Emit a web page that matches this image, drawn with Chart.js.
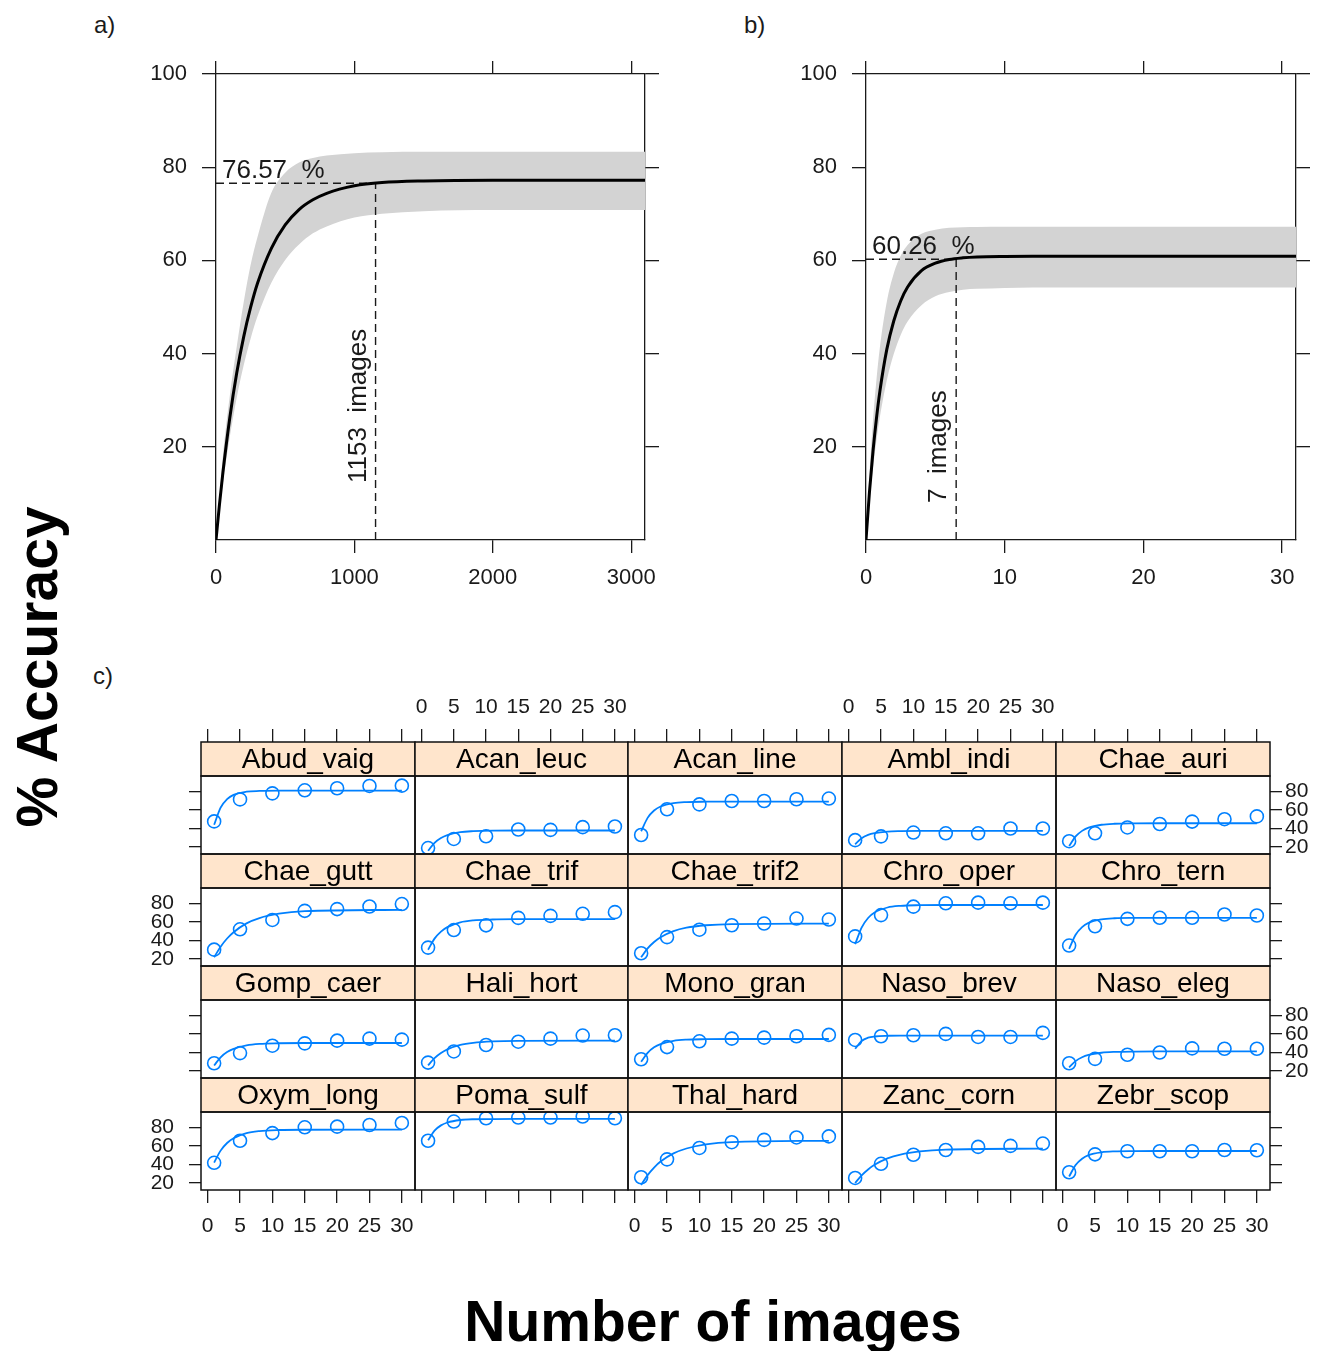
<!DOCTYPE html>
<html>
<head>
<meta charset="utf-8">
<title>% Accuracy vs number of images</title>
<script src="https://cdn.jsdelivr.net/npm/chart.js@4.4.1/dist/chart.umd.min.js"></script>
<style>
  body { margin: 0; background: #fff; }
  #page { position: relative; width: 1336px; height: 1351px; overflow: hidden;
          font-family: 'Liberation Sans', Arial, Helvetica, sans-serif; color: #1a1a1a; }
  .cv { position: absolute; }
  .tag { position: absolute; font-size: 24px; line-height: 30px; }
  .big { position: absolute; font-weight: bold; font-size: 57px; color: #000; white-space: nowrap; }
  #ylab { left: 37px; top: 667px; transform: translate(-50%, -50%) rotate(-90deg); }
  #xlab { left: 713px; top: 1288px; transform: translateX(-50%); }
</style>
</head>
<body>
<div id="page">
  <div class="tag" style="left:94px;top:10px">a)</div>
  <div class="tag" style="left:744px;top:10px">b)</div>
  <div class="tag" style="left:93px;top:661px">c)</div>
  <div class="big" id="ylab">% Accuracy</div>
  <div class="big" id="xlab">Number of images</div>
  <div class="cv" style="left:130px;top:40px;width:560px;height:570px"><canvas id="chartA"></canvas></div>
  <div class="cv" style="left:780px;top:40px;width:560px;height:570px"><canvas id="chartB"></canvas></div>
</div>
<script>
// ---- a) all species pooled: fitted accuracy curve and its band ----
const aX     = [0, 25, 50, 100, 150, 200, 250, 300, 400, 500, 600, 700, 800, 1000, 1200, 1500, 2000, 2500, 3100];
const aFit   = [0, 7.6, 14.5, 26.3, 35.9, 43.6, 49.9, 55.1, 62.6, 67.6, 70.9, 73.0, 74.4, 76.0, 76.7, 77.05, 77.2, 77.2, 77.2];
const aUpper = [0, 9, 18, 31, 41.5, 51, 59, 65, 74.5, 78.8, 81.0, 82.0, 82.5, 83.0, 83.2, 83.3, 83.3, 83.3, 83.3];
const aLower = [0, 6.4, 12.2, 22.2, 30.6, 37.5, 43.2, 48.0, 55.2, 60.1, 63.4, 65.8, 67.3, 69.2, 70.0, 70.55, 70.8, 70.8, 70.8];
const aXTicks = [0, 1000, 2000, 3000];
const aAcc = 76.57;
const aImages = 1153;

// ---- b) per species average ----
const bX     = [0, 0.25, 0.5, 0.75, 1, 1.5, 2, 2.5, 3, 4, 5, 6, 7, 8, 10, 12, 15, 20, 31];
const bFit   = [0, 10.3, 18.9, 26.0, 31.9, 40.9, 47.0, 51.3, 54.3, 57.8, 59.4, 60.2, 60.56, 60.74, 60.86, 60.9, 60.9, 60.9, 60.9];
const bUpper = [0, 14.2, 25.5, 34.3, 41.3, 51.1, 57.2, 61.0, 63.3, 65.7, 66.6, 66.98, 67.1, 67.15, 67.2, 67.2, 67.2, 67.2, 67.2];
const bLower = [0, 8.3, 15.4, 21.3, 26.4, 34.3, 39.9, 44.0, 46.9, 50.4, 52.3, 53.2, 53.7, 53.9, 54.1, 54.2, 54.2, 54.2, 54.2];
const bXTicks = [0, 10, 20, 30];
const bAcc = 60.26;
const bImages = 6.5;
const bImagesLabel = 7;

const accTicks = [20, 40, 60, 80, 100];

// ---- c) one panel per species ----
const pointX = [1, 5, 10, 15, 20, 25, 30];
const curveX = [1, 2, 3, 4, 6, 8, 11, 15, 30];
const panelXTicks = [0, 5, 10, 15, 20, 25, 30];
const panelYTicks = [20, 40, 60, 80];

const abudVaigPts  = [47.6, 71.3, 77.8, 81.1, 83.3, 85.8, 86.1];
const abudVaigFit  = [44.0, 62.5, 71.6, 76.2, 79.6, 80.4, 80.7, 80.7, 80.7];
const acanLeucPts  = [18.9, 28.7, 31.6, 38.9, 38.5, 41.4, 42.1];
const acanLeucFit  = [16.0, 24.6, 29.8, 32.9, 36.0, 37.1, 37.7, 37.8, 37.8];
const acanLinePts  = [33.0, 60.7, 65.9, 69.6, 69.6, 71.5, 72.2];
const acanLineFit  = [37.0, 51.4, 59.3, 63.6, 67.3, 68.4, 68.8, 68.9, 68.9];
const amblIndiPts  = [27.4, 31.5, 35.6, 34.8, 34.8, 40.0, 40.0];
const amblIndiFit  = [23.0, 29.5, 33.1, 35.0, 36.7, 37.2, 37.4, 37.4, 37.4];
const chaeAuriPts  = [26.3, 34.8, 41.1, 44.8, 47.4, 50.0, 53.0];
const chaeAuriFit  = [21.0, 31.4, 37.4, 40.9, 44.0, 45.1, 45.5, 45.6, 45.6];
const chaeGuttPts  = [30.1, 52.0, 62.1, 71.9, 73.8, 76.6, 79.2];
const chaeGuttFit  = [22.0, 33.3, 42.1, 48.9, 58.4, 64.1, 68.8, 71.5, 73.0];
const chaeTrifPts  = [32.3, 51.2, 56.3, 64.3, 66.5, 68.7, 70.5];
const chaeTrifFit  = [30.0, 42.0, 49.6, 54.4, 59.5, 61.6, 62.6, 62.9, 63.0];
const chaeTrif2Pts = [26.2, 43.6, 51.6, 56.4, 58.2, 63.6, 62.5];
const chaeTrif2Fit = [22.0, 31.4, 38.3, 43.5, 50.1, 53.8, 56.4, 57.7, 58.2];
const chroOperPts  = [44.4, 67.3, 76.4, 80.0, 80.7, 80.0, 80.7];
const chroOperFit  = [36.0, 53.9, 64.2, 70.1, 75.5, 77.3, 78.0, 78.2, 78.2];
const chroTernPts  = [34.5, 55.3, 63.3, 64.4, 64.4, 68.0, 66.9];
const chroTernFit  = [31.0, 46.1, 54.3, 58.9, 62.7, 63.9, 64.3, 64.4, 64.4];
const gompCaerPts  = [28.4, 39.3, 47.3, 49.8, 52.7, 54.9, 53.8];
const gompCaerFit  = [26.0, 34.8, 40.4, 43.9, 47.6, 49.2, 49.9, 50.2, 50.2];
const haliHortPts  = [29.1, 41.1, 48.0, 51.6, 54.9, 58.2, 58.5];
const haliHortFit  = [26.0, 33.9, 39.4, 43.4, 48.1, 50.4, 51.9, 52.5, 52.7];
const monoGranPts  = [32.7, 45.8, 52.0, 54.9, 56.0, 57.5, 58.9];
const monoGranFit  = [30.0, 39.6, 45.5, 49.0, 52.5, 53.8, 54.3, 54.5, 54.5];
const nasoBrevPts  = [53.5, 57.5, 58.5, 60.0, 56.7, 56.7, 61.1];
const nasoBrevFit  = [44.0, 52.4, 55.9, 57.2, 58.0, 58.2, 58.2, 58.2, 58.2];
const nasoElegPts  = [28.4, 33.1, 37.5, 40.0, 44.4, 44.0, 44.0];
const nasoElegFit  = [24.0, 30.7, 34.8, 37.3, 39.7, 40.6, 41.0, 41.1, 41.1];
const oxymLongPts  = [41.8, 65.5, 73.8, 80.0, 80.7, 82.5, 84.7];
const oxymLongFit  = [42.0, 54.9, 63.1, 68.3, 73.8, 76.0, 77.1, 77.4, 77.5];
const pomaSulfPts  = [65.5, 86.2, 89.8, 90.5, 90.5, 91.6, 89.8];
const pomaSulfFit  = [66.0, 76.4, 82.1, 85.2, 87.9, 88.7, 88.9, 89.0, 89.0];
const thalHardPts  = [26.2, 45.5, 57.8, 64.0, 66.5, 69.1, 70.2];
const thalHardFit  = [18.0, 28.5, 36.7, 43.1, 51.9, 57.2, 61.6, 64.1, 65.5];
const zancCornPts  = [25.5, 40.7, 50.5, 55.6, 58.9, 60.0, 62.5];
const zancCornFit  = [20.0, 28.2, 34.6, 39.6, 46.5, 50.7, 54.1, 56.0, 57.1];
const zebrScopPts  = [31.6, 50.9, 54.2, 54.2, 54.2, 55.6, 55.3];
const zebrScopFit  = [27.0, 39.4, 46.2, 50.0, 53.1, 54.1, 54.4, 54.5, 54.5];

// panels in reading order (5 per row)
const panels = [
  { name: 'Abud_vaig', pts: abudVaigPts, fit: abudVaigFit },
  { name: 'Acan_leuc', pts: acanLeucPts, fit: acanLeucFit },
  { name: 'Acan_line', pts: acanLinePts, fit: acanLineFit },
  { name: 'Ambl_indi', pts: amblIndiPts, fit: amblIndiFit },
  { name: 'Chae_auri', pts: chaeAuriPts, fit: chaeAuriFit },
  { name: 'Chae_gutt', pts: chaeGuttPts, fit: chaeGuttFit },
  { name: 'Chae_trif', pts: chaeTrifPts, fit: chaeTrifFit },
  { name: 'Chae_trif2', pts: chaeTrif2Pts, fit: chaeTrif2Fit },
  { name: 'Chro_oper', pts: chroOperPts, fit: chroOperFit },
  { name: 'Chro_tern', pts: chroTernPts, fit: chroTernFit },
  { name: 'Gomp_caer', pts: gompCaerPts, fit: gompCaerFit },
  { name: 'Hali_hort', pts: haliHortPts, fit: haliHortFit },
  { name: 'Mono_gran', pts: monoGranPts, fit: monoGranFit },
  { name: 'Naso_brev', pts: nasoBrevPts, fit: nasoBrevFit },
  { name: 'Naso_eleg', pts: nasoElegPts, fit: nasoElegFit },
  { name: 'Oxym_long', pts: oxymLongPts, fit: oxymLongFit },
  { name: 'Poma_sulf', pts: pomaSulfPts, fit: pomaSulfFit },
  { name: 'Thal_hard', pts: thalHardPts, fit: thalHardFit },
  { name: 'Zanc_corn', pts: zancCornPts, fit: zancCornFit },
  { name: 'Zebr_scop', pts: zebrScopPts, fit: zebrScopFit }
];

const FONT = "'Liberation Sans', Arial, Helvetica, sans-serif";
const INK = '#1a1a1a';
const BLUE = '#0080ff';
const page = document.getElementById('page');

const xy = (xs, ys) => xs.map((x, i) => ({ x, y: ys[i] }));
const plain = v => String(v);   // no thousands separators

// ---------- panels a and b ----------
// text next to the dashed reference lines
const refLabels = {
  id: 'refLabels',
  afterDatasetsDraw(chart, args, o) {
    const { ctx, scales: { x, y } } = chart;
    ctx.save();
    ctx.fillStyle = INK;
    ctx.font = '26px ' + FONT;
    ctx.textBaseline = 'alphabetic';
    ctx.textAlign = 'left';
    ctx.fillText(o.accText, x.getPixelForValue(0) + 6, y.getPixelForValue(o.acc) - 5);
    ctx.translate(x.getPixelForValue(o.img) - 10, y.getPixelForValue(0) - o.lift);
    ctx.rotate(-Math.PI / 2);
    ctx.fillText(o.imgText, 0, 0);
    ctx.restore();
  }
};

function accuracyPanel(canvasId, s) {
  const font = { family: FONT, size: 22 };
  const xAxis = (position, labels, height) => ({
    type: 'linear', position, min: 0, max: s.xMax,
    afterBuildTicks: sc => { sc.ticks = s.xTicks.map(value => ({ value })); },
    afterFit: sc => { sc.height = height; },
    ticks: { display: labels, font, color: INK, padding: 12, maxRotation: 0, autoSkip: false, callback: plain },
    grid: { drawOnChartArea: false, tickLength: 13, color: INK, lineWidth: 1.3 },
    border: { display: true, color: INK, width: 1.3 }
  });
  const yAxis = (position, labels, width) => ({
    type: 'linear', position, min: 0, max: 100,
    afterBuildTicks: sc => { sc.ticks = accTicks.map(value => ({ value })); },
    afterFit: sc => { sc.width = width; },
    ticks: { display: labels, font, color: INK, padding: 15, autoSkip: false, callback: plain },
    grid: { drawOnChartArea: false, tickLength: 14, color: INK, lineWidth: 1.3 },
    border: { display: true, color: INK, width: 1.3 }
  });
  return new Chart(document.getElementById(canvasId), {
    type: 'line',
    data: {
      datasets: [
        { data: xy(s.x, s.fit), borderColor: '#000', borderWidth: 3 },
        { data: [{ x: 0, y: s.acc }, { x: s.img, y: s.acc }], borderColor: INK, borderWidth: 1.4, borderDash: [8, 5], cubicInterpolationMode: 'default' },
        { data: [{ x: s.img, y: 0 }, { x: s.img, y: s.acc }], borderColor: INK, borderWidth: 1.4, borderDash: [8, 5], cubicInterpolationMode: 'default' },
        { data: xy(s.x, s.upper), borderWidth: 0, borderColor: 'rgba(0,0,0,0)', backgroundColor: '#d3d3d3', fill: '+1' },
        { data: xy(s.x, s.lower), borderWidth: 0, borderColor: 'rgba(0,0,0,0)', fill: false }
      ].map(d => Object.assign({ xAxisID: 'x', yAxisID: 'y' }, d))
    },
    options: {
      animation: false, responsive: true, maintainAspectRatio: false, events: [],
      layout: { padding: 0 },
      elements: { point: { radius: 0 }, line: { cubicInterpolationMode: 'monotone' } },
      scales: {
        x: xAxis('bottom', true, 70),
        x2: xAxis('top', false, 34),
        y: yAxis('left', true, 86),
        y2: yAxis('right', false, s.right)
      },
      plugins: {
        legend: { display: false }, tooltip: { enabled: false },
        filler: { drawTime: 'beforeDatasetsDraw' },
        refLabels: { accText: s.acc + '  %', acc: s.acc, img: s.img, imgText: s.imgLabel + '  images', lift: s.lift }
      }
    },
    plugins: [refLabels]
  });
}

accuracyPanel('chartA', { x: aX, fit: aFit, upper: aUpper, lower: aLower, xMax: 3100, xTicks: aXTicks,
  acc: aAcc, img: aImages, imgLabel: aImages, lift: 57, right: 45 });
accuracyPanel('chartB', { x: bX, fit: bFit, upper: bUpper, lower: bLower, xMax: 31, xTicks: bXTicks,
  acc: bAcc, img: bImages, imgLabel: bImagesLabel, lift: 37, right: 44 });

// ---------- panel c: lattice of species ----------
const colEdges = [201, 415, 628, 842, 1056, 1270];
const gridTop = 742, stripH = 34, panelH = 78, gutter = 70;
const xLo = -1.03, xHi = 32.03, yLo = 12.5, yHi = 96.5;

// strips (peach boxes with the species name) and panel frames
const latticeFrames = {
  id: 'latticeFrames',
  beforeDatasetsDraw(chart, args, o) {
    const { ctx, chartArea: { left, right } } = chart;
    ctx.save();
    ctx.font = '28px ' + FONT;
    ctx.textAlign = 'center';
    ctx.textBaseline = 'middle';
    o.names.forEach((name, r) => {
      const s = chart.scales['s' + r];
      ctx.fillStyle = '#ffe5cc';
      ctx.fillRect(left, s.top, right - left, s.bottom - s.top);
      ctx.fillStyle = '#000';
      ctx.fillText(name, (left + right) / 2, (s.top + s.bottom) / 2 + 1);
    });
    ctx.restore();
  },
  afterDatasetsDraw(chart, args, o) {
    const { ctx, chartArea: { left, right } } = chart;
    ctx.save();
    ctx.strokeStyle = '#111';
    ctx.lineWidth = 1.5;
    o.names.forEach((name, r) => {
      const s = chart.scales['s' + r], p = chart.scales['p' + r];
      ctx.strokeRect(left, s.top, right - left, s.bottom - s.top);
      ctx.strokeRect(left, p.top, right - left, p.bottom - p.top);
    });
    ctx.restore();
  }
};

function latticeColumn(c) {
  const width = colEdges[c + 1] - colEdges[c];
  const box = document.createElement('div');
  box.className = 'cv';
  Object.assign(box.style, {
    left: (colEdges[c] - gutter) + 'px', top: (gridTop - gutter) + 'px',
    width: (width + 2 * gutter) + 'px', height: (4 * (stripH + panelH) + 2 * gutter) + 'px'
  });
  const canvas = document.createElement('canvas');
  box.appendChild(canvas);
  page.appendChild(box);

  const tickFont = { family: FONT, size: 21 };
  const xAxis = (position, labels) => ({
    type: 'linear', position, min: xLo, max: xHi,
    afterBuildTicks: s => { s.ticks = panelXTicks.map(value => ({ value })); },
    afterFit: s => { s.height = gutter; },
    ticks: { display: labels, font: tickFont, color: INK, padding: position === 'top' ? 9 : 11, maxRotation: 0, autoSkip: false, callback: plain },
    grid: { drawOnChartArea: false, tickLength: 13, color: INK, lineWidth: 1.3 },
    border: { display: false }
  });
  const yAxis = (position, weight, stackWeight, marks, labels, w) => ({
    type: 'linear', position, stack: position, stackWeight, weight, min: yLo, max: yHi,
    afterBuildTicks: s => { s.ticks = panelYTicks.map(value => ({ value })); },
    afterFit: s => { s.width = w; },
    ticks: { display: labels, font: tickFont, color: INK, padding: position === 'left' ? 15 : 3, autoSkip: false, callback: plain },
    grid: { display: marks, drawOnChartArea: false, tickLength: 12, color: INK, lineWidth: 1.3 },
    border: { display: false }
  });

  const scales = { x: xAxis('bottom', c % 2 === 0), xt: xAxis('top', c % 2 === 1) };
  const datasets = [];
  const names = [];
  const first = c === 0, last = c === 4;
  for (let r = 0; r < 4; r++) {
    // left stack: higher weight sits higher
    scales['s' + r] = yAxis('left', 20 - 2 * r, stripH, false, false, first ? gutter : 0);
    scales['p' + r] = yAxis('left', 19 - 2 * r, panelH, first, first && r % 2 === 1, first ? gutter : 0);
    if (last) {
      // right stack: lower weight sits higher
      scales['rs' + r] = yAxis('right', 2 * r, stripH, false, false, gutter);
      scales['rp' + r] = yAxis('right', 2 * r + 1, panelH, true, r % 2 === 0, gutter);
    }
    const sp = panels[r * 5 + c];
    names.push(sp.name);
    datasets.push({ data: xy(pointX, sp.pts), xAxisID: 'x', yAxisID: 'p' + r, showLine: false,
      borderColor: BLUE, backgroundColor: 'rgba(0,0,0,0)', pointRadius: 6.5, pointBorderWidth: 1.6 });
    datasets.push({ data: xy(curveX, sp.fit), xAxisID: 'x', yAxisID: 'p' + r,
      borderColor: BLUE, borderWidth: 1.8, pointRadius: 0, cubicInterpolationMode: 'monotone', fill: false });
  }

  return new Chart(canvas, {
    type: 'line',
    data: { datasets },
    options: {
      animation: false, responsive: true, maintainAspectRatio: false, events: [],
      layout: { padding: { left: first ? 0 : gutter, right: last ? 0 : gutter, top: 0, bottom: 0 } },
      scales,
      plugins: { legend: { display: false }, tooltip: { enabled: false }, latticeFrames: { names } }
    },
    plugins: [latticeFrames]
  });
}

for (let c = 0; c < 5; c++) latticeColumn(c);
</script>
</body>
</html>
